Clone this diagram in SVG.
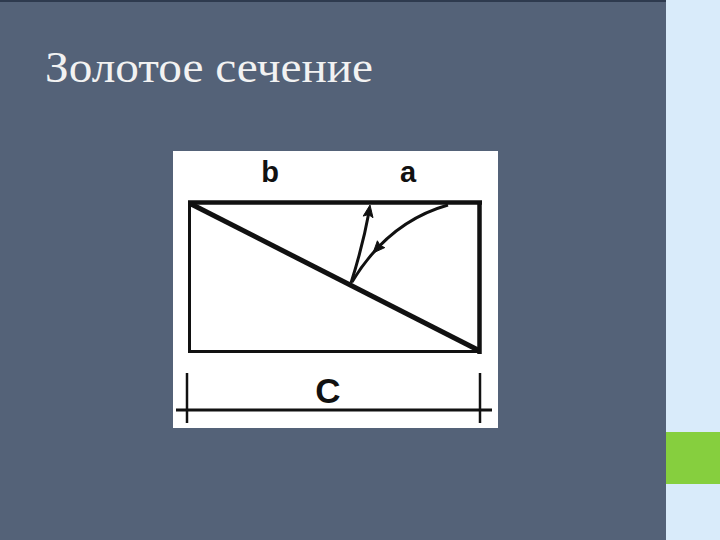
<svg xmlns="http://www.w3.org/2000/svg" width="720" height="540" viewBox="0 0 720 540">
<defs>
<style>
.lbl{font-family:"Liberation Sans",Arial,sans-serif;font-weight:bold;fill:#111;text-anchor:middle}
.ln{stroke:#111;fill:none}
.ah{fill:#111;stroke:#111;stroke-width:1;stroke-linejoin:miter}
</style>
</defs>
<rect x="0" y="0" width="720" height="540" fill="#d9ebfa"/>
<rect x="0" y="0" width="666" height="540" fill="#546278"/>
<rect x="0" y="0" width="666" height="2" fill="#2e3a4e"/>
<rect x="666" y="432" width="54" height="52" fill="#86cf3e"/>
<g id="title">
<text x="45" y="82" font-family="'Liberation Serif','DejaVu Serif',serif" font-size="44" fill="#f2f2f2" textLength="328" lengthAdjust="spacingAndGlyphs">Золотое сечение</text>
</g>
<g id="figure">
<rect x="173" y="151" width="325" height="277" fill="#ffffff"/>
<g id="rect">
<line class="ln" x1="188" y1="202.5" x2="482" y2="202.5" stroke-width="4.5"/>
<line class="ln" x1="189.5" y1="201" x2="189.5" y2="353" stroke-width="3"/>
<line class="ln" x1="188" y1="351.5" x2="480" y2="351.5" stroke-width="3"/>
<line class="ln" x1="479.5" y1="201" x2="479.5" y2="354" stroke-width="4.5"/>
</g>
<g id="connectors">
<line class="ln" x1="191" y1="204" x2="478" y2="350" stroke-width="5"/>
<path class="ln" d="M351,283 Q363,245 369,212" stroke-width="3"/>
<polygon class="ah" points="370,205 373,217.7 368.5,214.5 363.2,216.1"/>
<path class="ln" d="M448,205 Q388,222 352,282" stroke-width="3"/>
<polygon class="ah" points="373,253 384.8,247.6 380,245.5 377.4,240.8"/>
<line class="ln" x1="176" y1="410" x2="492" y2="410" stroke-width="3"/>
<line class="ln" x1="187" y1="373" x2="187" y2="423" stroke-width="2.5"/>
<line class="ln" x1="480" y1="373" x2="480" y2="423" stroke-width="2.5"/>
</g>
<g id="labels">
<text class="lbl" x="270" y="182" font-size="29">b</text>
<text class="lbl" x="408" y="182" font-size="29">a</text>
<text class="lbl" x="328" y="403" font-size="35">C</text>
</g>
</g>
</svg>
